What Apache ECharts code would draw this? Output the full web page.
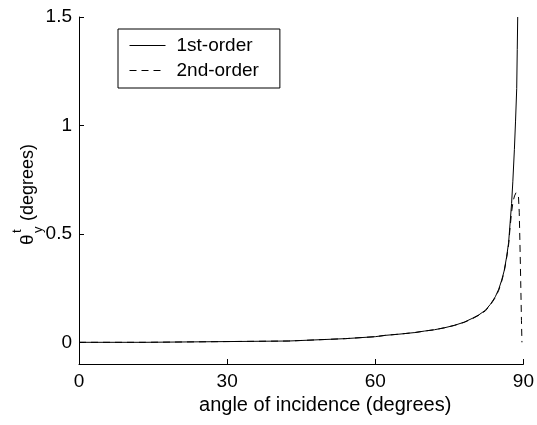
<!DOCTYPE html>
<html>
<head>
<meta charset="utf-8">
<script src="https://cdn.jsdelivr.net/npm/echarts@6/dist/echarts.min.js"></script>
<style>
  html, body { margin: 0; padding: 0; background: #fff; }
  #chart { width: 537px; height: 425px; }
</style>
</head>
<body>
<div id="chart"></div>
<script>
// angle of incidence (deg) and theta_y^t (deg)
const angle1 = [0, 13.4, 13.6, 42.5, 42.7, 54, 54.2, 60, 62, 65, 68, 70, 72, 74, 76, 78, 79.6, 81, 82.3, 83.3, 84.3, 85, 85.6, 86.1, 86.6, 87, 87.3, 87.6, 87.85, 88.17, 88.4, 88.64, 88.75, 88.84];
const firstOrder = [0, 0, 0.005, 0.006, 0.013, 0.017, 0.022, 0.026, 0.032, 0.038, 0.045, 0.052, 0.058, 0.067, 0.078, 0.093, 0.11, 0.127, 0.148, 0.175, 0.21, 0.245, 0.287, 0.33, 0.395, 0.46, 0.55, 0.64, 0.74, 0.89, 1.02, 1.17, 1.35, 1.5];

const angle2 = [0, 13.4, 13.6, 42.5, 42.7, 54, 54.2, 60, 62, 65, 68, 70, 72, 74, 76, 78, 79.6, 81, 82.3, 83.3, 84.3, 85, 85.6, 86.1, 86.6, 87, 87.3, 87.6, 87.9, 88.2, 88.5, 88.8, 89.0, 89.15, 89.3, 89.45, 89.6, 89.7];
const secondOrder = [0, 0, 0.005, 0.006, 0.013, 0.017, 0.022, 0.026, 0.032, 0.038, 0.045, 0.052, 0.058, 0.067, 0.078, 0.092, 0.108, 0.125, 0.145, 0.172, 0.206, 0.24, 0.282, 0.325, 0.39, 0.45, 0.53, 0.6, 0.65, 0.675, 0.69, 0.69, 0.67, 0.6, 0.45, 0.28, 0.1, 0];

const xTicks = [0, 30, 60, 90];
const yTicks = [0, 0.5, 1, 1.5];
const seriesNames = ['1st-order', '2nd-order'];

const FONT = 'Liberation Sans, Arial, sans-serif';

const chart = echarts.init(document.getElementById('chart'), null, { renderer: 'canvas' });

const option = {
    animation: false,
    backgroundColor: '#fff',
    grid: { left: 79, right: 12, top: 17, bottom: 61 },
    legend: {
        data: seriesNames,
        orient: 'vertical',
        left: 118,
        top: 29,
        itemWidth: 36,
        itemHeight: 14,
        itemGap: 6,
        padding: [7, 21, 8, 11],
        borderColor: '#000',
        borderWidth: 1,
        backgroundColor: '#fff',
        itemStyle: { opacity: 0 }, // hide the marker dot, keep the line sample
        lineStyle: { width: 1 },
        textStyle: { color: '#000', fontSize: 19, fontFamily: FONT, padding: [0, 0, 0, 6] }
    },
    xAxis: {
        type: 'value',
        min: xTicks[0],
        max: xTicks[xTicks.length - 1],
        interval: 30,
        name: 'angle of incidence (degrees)',
        nameLocation: 'middle',
        nameGap: 28,
        nameTextStyle: { color: '#000', fontSize: 20, fontFamily: FONT, padding: [0, 0, 0, 48] },
        axisLine: { show: true, onZero: false, lineStyle: { color: '#000', width: 1 } },
        axisTick: { show: true, inside: true, length: 5, lineStyle: { color: '#000' } },
        axisLabel: { color: '#000', fontSize: 19, fontFamily: FONT, margin: 8 },
        splitLine: { show: false }
    },
    yAxis: {
        type: 'value',
        min: -0.1,
        max: 1.5,
        axisLine: { show: true, onZero: false, lineStyle: { color: '#000', width: 1 } },
        axisTick: { show: true, inside: true, length: 5, customValues: yTicks, lineStyle: { color: '#000' } },
        axisLabel: {
            color: '#000', fontSize: 19, fontFamily: FONT, margin: 7,
            customValues: yTicks,
            formatter: v => String(v)
        },
        splitLine: { show: false }
    },
    graphic: [{
        // y-axis label: theta_y^t (degrees), rotated
        type: 'group',
        x: 28,
        y: 245,
        rotation: Math.PI / 2,
        silent: true,
        children: [
            { type: 'text', x: 0, y: 0, style: { text: 'θ', fill: '#000', font: '19px ' + FONT, align: 'left', verticalAlign: 'middle' } },
            { type: 'text', x: 12, y: 10, style: { text: 'y', fill: '#000', font: '13px ' + FONT, align: 'left', verticalAlign: 'middle' } },
            { type: 'text', x: 12, y: -11, style: { text: 't', fill: '#000', font: '13px ' + FONT, align: 'left', verticalAlign: 'middle' } },
            { type: 'text', x: 24, y: 0, style: { text: '(degrees)', fill: '#000', font: '18px ' + FONT, align: 'left', verticalAlign: 'middle' } }
        ]
    }],
    series: [
        {
            name: seriesNames[0],
            type: 'line',
            data: angle1.map((a, i) => [a, firstOrder[i]]),
            symbol: 'none',
            clip: true,
            lineStyle: { color: '#000', width: 1, type: 'solid' },
            itemStyle: { color: '#000' }
        },
        {
            name: seriesNames[1],
            type: 'line',
            data: angle2.map((a, i) => [a, secondOrder[i]]),
            symbol: 'none',
            clip: true,
            lineStyle: { color: '#000', width: 1, type: [7, 5] },
            itemStyle: { color: '#000' }
        }
    ]
};

chart.setOption(option);
</script>
</body>
</html>
